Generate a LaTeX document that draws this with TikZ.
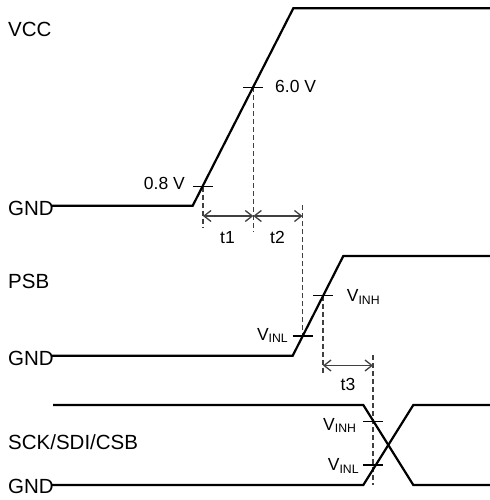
\documentclass[tikz,border=0pt]{standalone}
\usepackage{fontspec}
\setmainfont{Liberation Sans}
\usetikzlibrary{arrows.meta}
\tikzset{
	wave/.style={line width=2.2bp},
	tickmark/.style={line width=1.1bp},
	guide/.style={line width=1.4bp, black!75, dash pattern=on 5bp off 3bp},
	span/.style={{Straight Barb[length=7bp,width=11bp]}-{Straight Barb[length=7bp,width=11bp]}, line width=1.3bp, black!75},
	big/.style={font=\fontsize{20.5bp}{24bp}\selectfont, inner sep=0pt},
	small/.style={font=\fontsize{17.5bp}{21bp}\selectfont, inner sep=0pt},
}
\begin{document}
\begin{tikzpicture}[x=1bp, y=-1bp]
		\useasboundingbox (0,0) rectangle (490,500);
		\node [] (g1) at (52, 205.7) {};
		\node [] (a1) at (192.7, 205.7) {};
		\node [] (a2) at (293.3, 8.3) {};
		\node [] (a3) at (490, 8.3) {};
		\node [] (k1) at (203, 186.7) {};
		\node [] (k2) at (253.3, 87.3) {};
		\node [] (d1) at (203, 228) {};
		\node [] (d2) at (253.3, 231.7) {};
		\node [] (h1) at (302.5, 205) {};
		\node [] (k3) at (302.5, 336) {};
		\node [] (m1) at (203, 216) {};
		\node [] (m2) at (253.3, 216) {};
		\node [] (m3) at (302.5, 216) {};
		\node [] (g2) at (52, 355.7) {};
		\node [] (b1) at (292.7, 355.7) {};
		\node [] (b2) at (343.3, 256) {};
		\node [] (b3) at (490, 256) {};
		\node [] (k4) at (323, 295.7) {};
		\node [] (d3) at (323, 373.3) {};
		\node [] (m4) at (323, 365.5) {};
		\node [] (m5) at (373, 365.5) {};
		\node [] (h2) at (373, 355) {};
		\node [] (d4) at (373, 485) {};
		\node [] (c0) at (53, 405) {};
		\node [] (c1) at (363.3, 405) {};
		\node [] (c2) at (413.3, 485) {};
		\node [] (c3) at (490, 485) {};
		\node [] (g3) at (52, 485) {};
		\node [] (e1) at (363.3, 485) {};
		\node [] (e2) at (413.3, 405) {};
		\node [] (e3) at (490, 405) {};
		\node [] (k5) at (373, 421.7) {};
		\node [] (k6) at (373, 465) {};
		\draw [guide] (k1.center) to (d1.center);
		\draw [guide] (k2.center) to (d2.center);
		\draw [guide] (h1.center) to (k3.center);
		\draw [guide] (k4.center) to (d3.center);
		\draw [guide] (h2.center) to (d4.center);
		\draw [span] (m1.center) to (m2.center);
		\draw [span] (m2.center) to (m3.center);
		\draw [span] (m4.center) to (m5.center);
		\draw [wave] (g1.center) -- (a1.center) -- (a2.center) -- (a3.center);
		\draw [wave] (g2.center) -- (b1.center) -- (b2.center) -- (b3.center);
		\draw [wave] (c0.center) -- (c1.center) -- (c2.center) -- (c3.center);
		\draw [wave] (g3.center) -- (e1.center) -- (e2.center) -- (e3.center);
		\foreach \k in {k1,k2,k3,k4,k5,k6}
			\draw [tickmark] ([xshift=-10bp]\k.center) -- ([xshift=10bp]\k.center);
		\node [big, anchor=base west] (lvcc) at (8, 37) {VCC};
		\node [big, anchor=base west] (lgnda) at (8, 215) {GND};
		\node [big, anchor=base west] (lpsb) at (8, 288) {PSB};
		\node [big, anchor=base west] (lgndb) at (8, 365) {GND};
		\node [big, anchor=base west] (lsck) at (8, 449) {SCK/SDI/CSB};
		\node [big, anchor=base west] (lgndc) at (8, 493) {GND};
		\node [small, anchor=base east] (llow) at (185, 190) {0.8 V};
		\node [small, anchor=base west] (lhigh) at (275, 93) {6.0 V};
		\node [small, anchor=base] (lt1) at (227.5, 243) {t1};
		\node [small, anchor=base] (lt2) at (277.5, 243) {t2};
		\node [small, anchor=base] (lt3) at (348, 390) {t3};
		\node [small, anchor=base east] (lpl) at (288.5, 340) {V\textsubscript{INL}};
		\node [small, anchor=base west] (lph) at (346.7, 301.7) {V\textsubscript{INH}};
		\node [small, anchor=base east] (lsh) at (356.7, 430) {V\textsubscript{INH}};
		\node [small, anchor=base east] (lsl) at (359.3, 470.7) {V\textsubscript{INL}};
\end{tikzpicture}
\end{document}
